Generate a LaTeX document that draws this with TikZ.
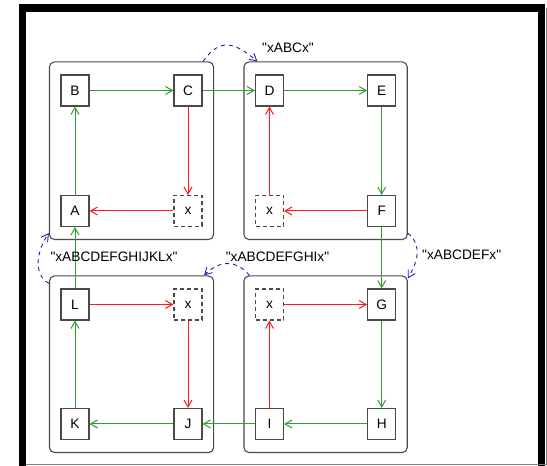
\documentclass[tikz,border=0pt]{standalone}
\usepackage{fontspec}
\setmainfont{Liberation Sans}
\usepackage{tikz}
\usetikzlibrary{arrows.meta, fit}
\definecolor{node_gray}{HTML}{4a4a4a}
\definecolor{edge_green}{HTML}{2e9e2e}
\definecolor{edge_red}{HTML}{ff1a1a}
\definecolor{edge_blue}{HTML}{2020b0}
\newcommand{\quoted}[1]{\textquotedbl#1\textquotedbl}

\begin{document}
\begin{tikzpicture}[x=1pt, y=1pt,
    font=\fontsize{13.7}{16}\selectfont,
    state/.style={draw=node_gray, line width=1.1pt, minimum width=28pt, minimum height=31pt, inner sep=0pt},
    hole/.style={state, dash pattern=on 4pt off 3pt},
    cluster/.style={draw=node_gray, line width=1.1pt, rounded corners=5pt, inner xsep=11pt, inner ysep=12.5pt},
    fwd/.style={draw=edge_green, line width=1pt, -{Straight Barb[length=7pt, width=8pt]}},
    back/.style={draw=edge_red, line width=1pt, -{Straight Barb[length=7pt, width=8pt]}},
    jump/.style={draw=edge_blue, line width=0.9pt, dash pattern=on 4pt off 4pt, -{Straight Barb[length=7pt, width=8pt]}}]
      \useasboundingbox (0,0) rectangle (547,466);
      % Frame
      \fill (19,0) rectangle (26,462);
      \fill (19,454) rectangle (545,462);
      \fill (538,0) rectangle (545,462);
      \draw[gray, line width=1pt] (26,1.5) -- (546,1.5) -- (546,458);
      % Nodes of the four blocks
      \node[state] (B) at (75,375.5) {B};
      \node[state] (C) at (188,375.5) {C};
      \node[state] (A) at (75,255) {A};
      \node[hole] (xa) at (188,255) {x};
      \node[state] (D) at (269.5,375.5) {D};
      \node[state] (E) at (381.7,375.5) {E};
      \node[hole] (xb) at (269.5,255) {x};
      \node[state] (F) at (381.7,255) {F};
      \node[state] (L) at (75,161.5) {L};
      \node[hole] (xc) at (188,161.5) {x};
      \node[state] (K) at (75,42) {K};
      \node[state] (J) at (188,42) {J};
      \node[hole] (xd) at (269.5,161.5) {x};
      \node[state] (G) at (381.7,161.5) {G};
      \node[state] (I) at (269.5,42) {I};
      \node[state] (H) at (381.7,42) {H};
      % Blocks
      \node[cluster, fit=(B)(C)(A)(xa)] (top_left) {};
      \node[cluster, fit=(D)(E)(xb)(F)] (top_right) {};
      \node[cluster, fit=(L)(xc)(K)(J)] (bottom_left) {};
      \node[cluster, fit=(xd)(G)(I)(H)] (bottom_right) {};
      % Main ring
      \draw[fwd] (B) -- (C);
      \draw[fwd] (C) -- (D);
      \draw[fwd] (D) -- (E);
      \draw[fwd] (E) -- (F);
      \draw[fwd] (F) -- (G);
      \draw[fwd] (G) -- (H);
      \draw[fwd] (H) -- (I);
      \draw[fwd] (I) -- (J);
      \draw[fwd] (J) -- (K);
      \draw[fwd] (K) -- (L);
      \draw[fwd] (L) -- (A);
      \draw[fwd] (A) -- (B);
      % Detours through x
      \draw[back] (C) -- (xa);
      \draw[back] (xa) -- (A);
      \draw[back] (F) -- (xb);
      \draw[back] (xb) -- (D);
      \draw[back] (L) -- (xc);
      \draw[back] (xc) -- (J);
      \draw[back] (I) -- (xd);
      \draw[back] (xd) -- (G);
      % Jumps between blocks
      \draw[jump] ([xshift=-11pt]top_left.north east) to[out=55, in=140, looseness=1.4] ([xshift=14pt]top_right.north west);
      \draw[jump] ([yshift=7pt]top_right.south east) to[out=-40, in=60, looseness=1.1] ([yshift=-3pt]bottom_right.north east);
      \draw[jump] ([xshift=6pt]bottom_right.north west) to[out=130, in=45, looseness=1.2] ([xshift=-10pt]bottom_left.north east);
      \draw[jump] ([yshift=-8pt]bottom_left.north west) to[out=150, in=235, looseness=1] ([yshift=7pt]top_left.south west);
      % Labels
      \node (lbl_c) at (288,418.5) {\quoted{xABCx}};
      \node (lbl_f) at (461.7,211) {\quoted{xABCDEFx}};
      \node (lbl_i) at (277.5,209) {\quoted{xABCDEFGHIx}};
      \node (lbl_l) at (114,209) {\quoted{xABCDEFGHIJKLx}};
    \end{tikzpicture}
\end{document}
